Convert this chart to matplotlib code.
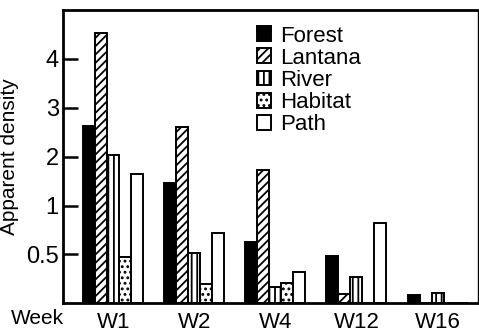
import numpy as np
import matplotlib
matplotlib.use("Agg")
import matplotlib.pyplot as plt

# data
weeks = ["W1", "W2", "W4", "W12", "W16"]
series = ["Forest", "Lantana", "River", "Habitat", "Path"]
forest = [2.63, 1.47, 0.63, 0.48, 0.08]
lantana = [4.53, 2.61, 1.72, 0.09, 0.0]
river = [2.03, 0.51, 0.17, 0.27, 0.11]
habitat = [0.47, 0.20, 0.21, 0.0, 0.0]
path = [1.65, 0.72, 0.32, 0.82, 0.0]

# the y axis is drawn with equal spacing between 0, 0.5, 1, 2, 3, 4
scale_vals = [0, 0.5, 1, 2, 3, 4, 5]
scale_units = [0, 1, 2, 3, 4, 5, 6]
ytick_vals = [0.5, 1, 2, 3, 4]
ytick_labels = ["0.5", "1", "2", "3", "4"]


def forward(v):
    return np.interp(v, scale_vals, scale_units)


def inverse(u):
    return np.interp(u, scale_units, scale_vals)


plt.rcParams["font.family"] = ["Liberation Sans", "DejaVu Sans"]
plt.rcParams["hatch.linewidth"] = 1.3

fig = plt.figure(figsize=(4.79, 3.34), dpi=100)
ax = fig.add_axes([0.1315, 0.092, 0.8665, 0.878])

styles = [
    dict(color="black", hatch=None),
    dict(color="white", hatch="////"),
    dict(color="white", hatch="|||"),
    dict(color="white", hatch="..."),
    dict(color="white", hatch=None),
]
values = [forest, lantana, river, habitat, path]

x = np.arange(len(weeks))
w = 0.148
for i, (name, vals, st) in enumerate(zip(series, values, styles)):
    ax.bar(x + (i - 2) * w, vals, w, color=st["color"], hatch=st["hatch"],
           edgecolor="black", linewidth=1.4, label=name)

ax.set_yscale("function", functions=(forward, inverse))
ax.set_ylim(0, 5)
ax.set_xlim(-0.62, 4.5)
ax.set_yticks(ytick_vals)
ax.set_yticklabels(ytick_labels)
ax.set_xticks(x)
ax.set_xticklabels(weeks)
ax.tick_params(axis="y", direction="in", length=11, width=1.8, labelsize=17, pad=3)
ax.tick_params(axis="x", length=0, labelsize=16, pad=6)
ax.minorticks_off()

for side in ["left", "bottom", "top"]:
    ax.spines[side].set_linewidth(2)
ax.spines["right"].set_linewidth(1)

ax.set_ylabel("Apparent density", fontsize=15, labelpad=5)
fig.text(0.022, 0.03, "Week", fontsize=15)

leg = ax.legend(loc="upper left", bbox_to_anchor=(0.43, 1.0), frameon=False,
                prop={"size": 16},
                handlelength=0.65, handleheight=0.65, handletextpad=0.4,
                labelspacing=0.05, borderaxespad=0.3)

fig.savefig("out.png", dpi=100)
